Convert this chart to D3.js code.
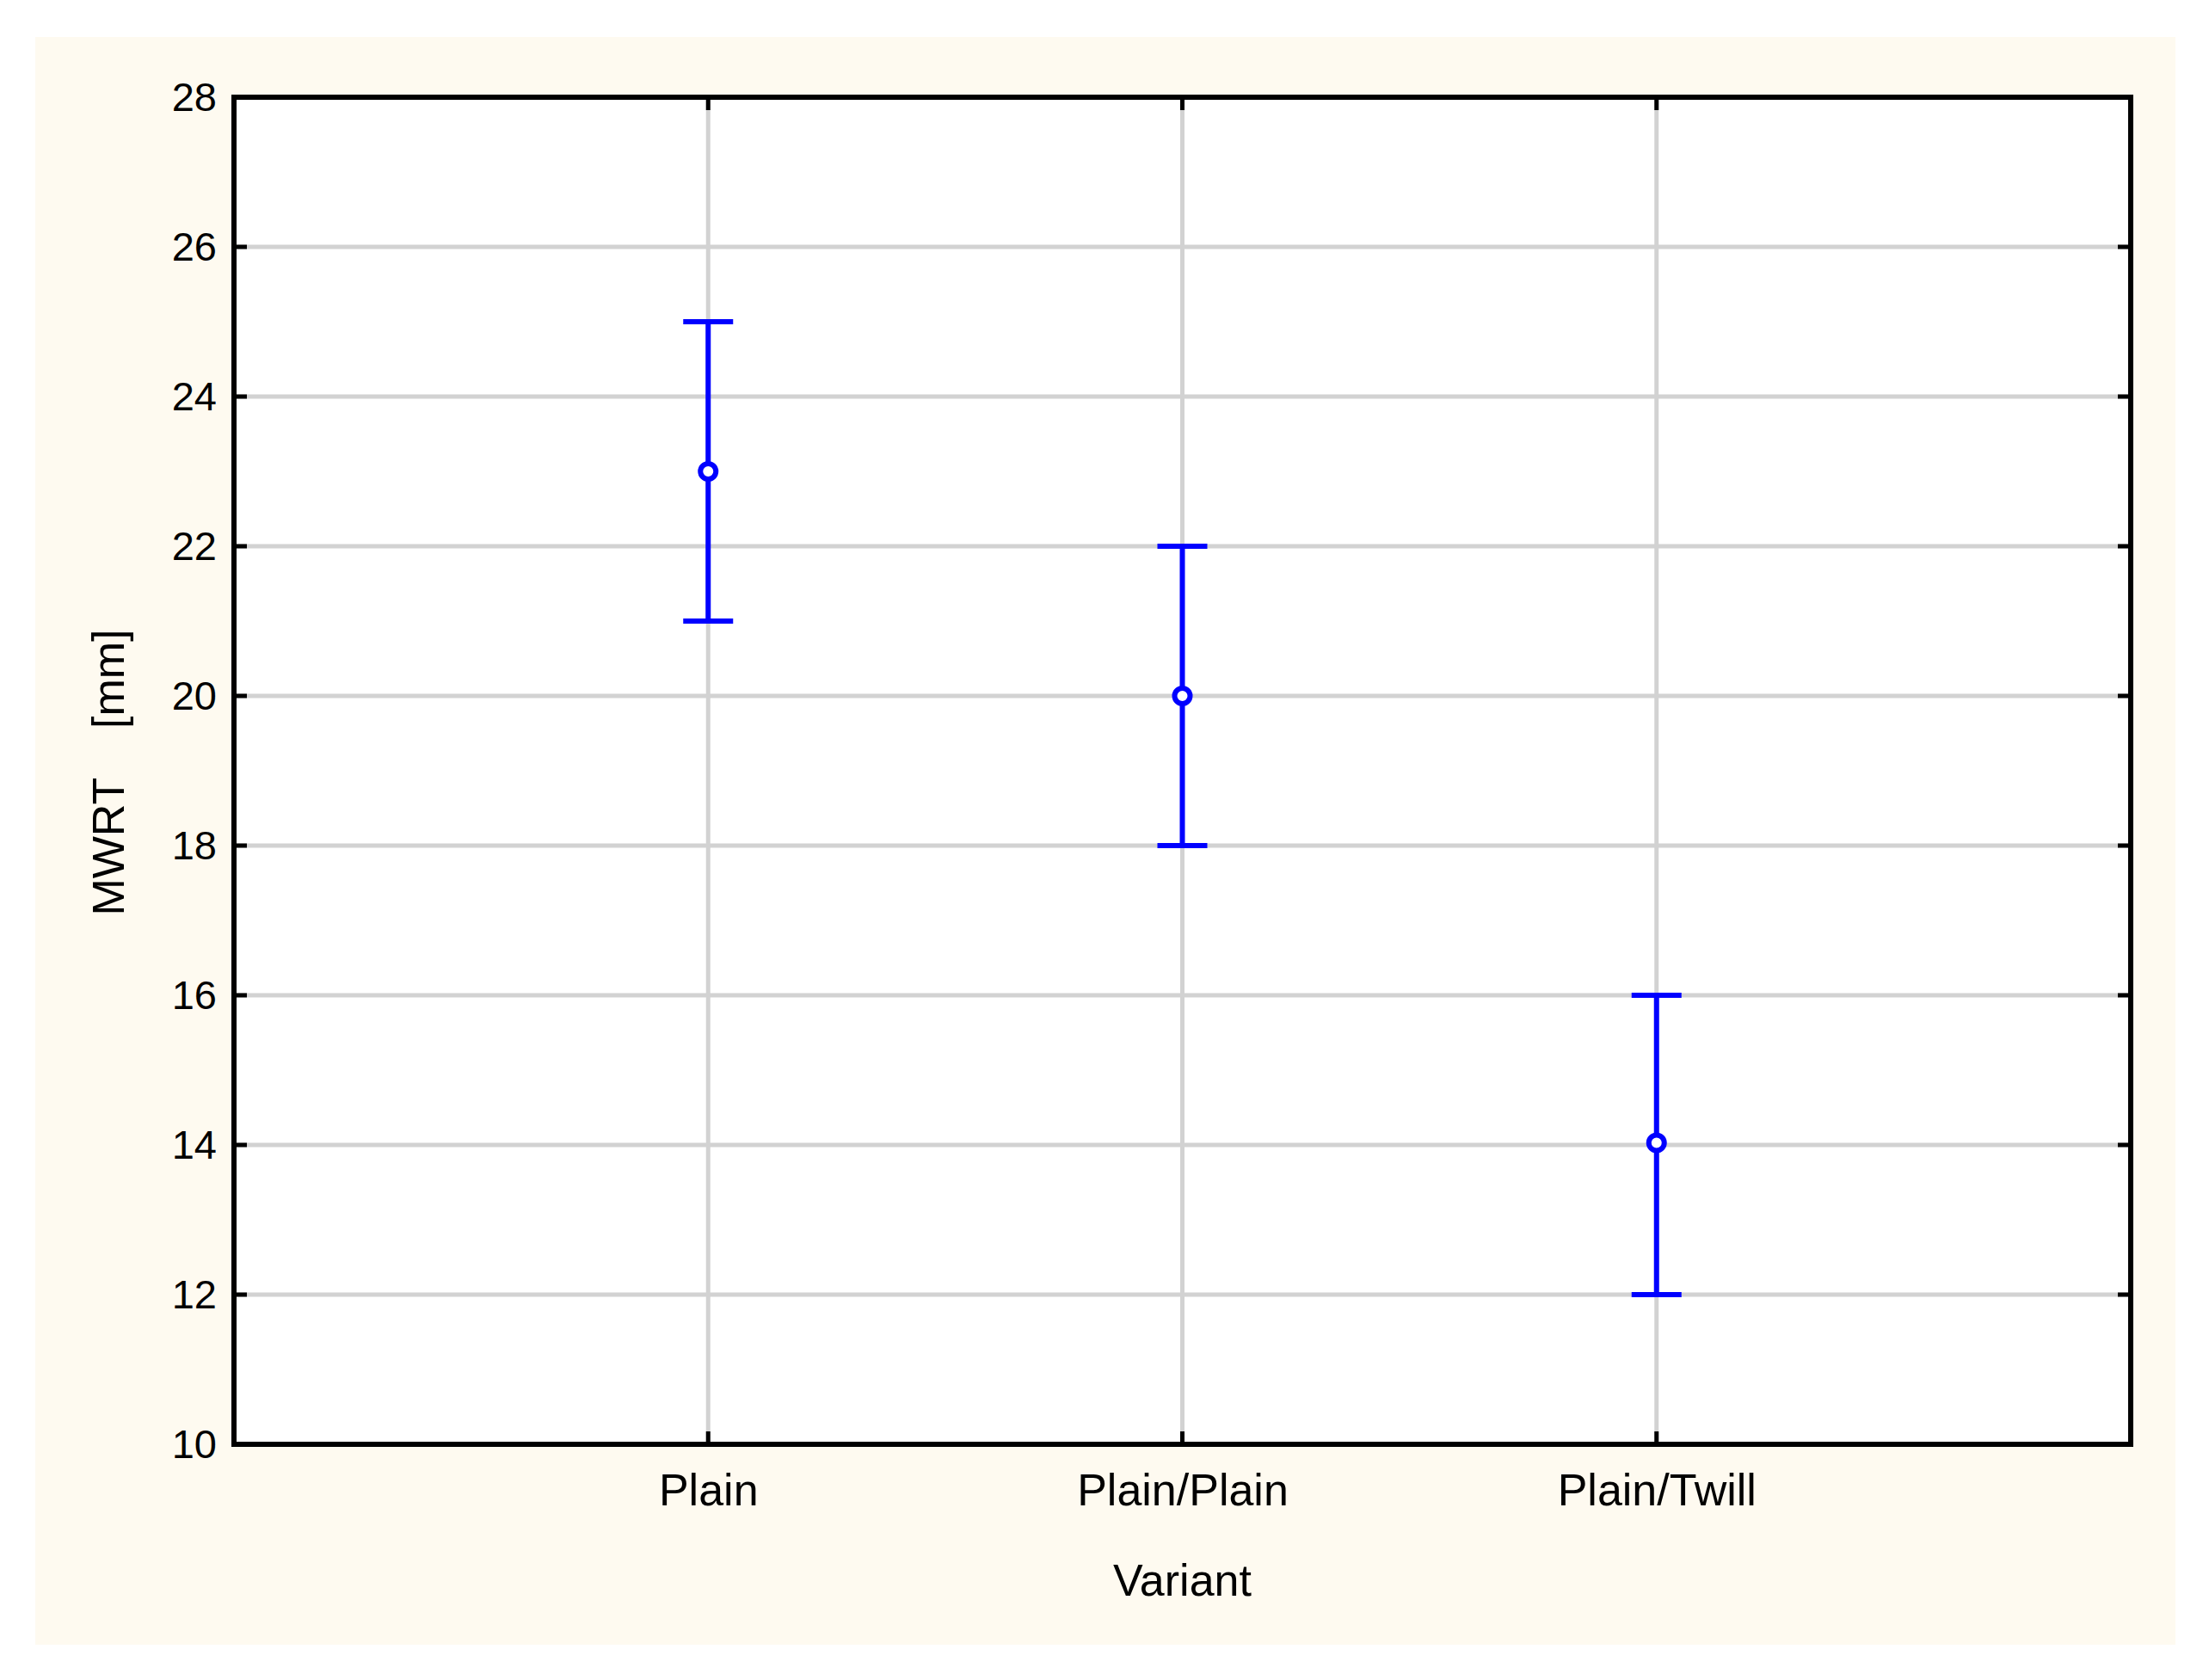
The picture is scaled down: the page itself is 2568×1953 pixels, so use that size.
<!DOCTYPE html><html><head><script src="https://cdn.jsdelivr.net/npm/d3@7"></script>
<style>body{margin:0;background:#fff}text{font-family:"Liberation Sans",Arial,sans-serif}</style></head><body>
<script>
const categories=["Plain","Plain/Plain","Plain/Twill"];
const means=[23,20,14.03];
const lower=[21,18,12];
const upper=[25,22,16];
const yTicks=[10,12,14,16,18,20,22,24,26,28];
const W=2568,H=1953,L=272,R=2477,T=113,B=1679;
const svg=d3.select("body").append("svg").attr("width",W).attr("height",H);
svg.append("rect").attr("x",41).attr("y",43).attr("width",2488).attr("height",1869).attr("fill","#fefaf0");
svg.append("rect").attr("x",L).attr("y",T).attr("width",R-L).attr("height",B-T).attr("fill","#fff");
const x=d3.scalePoint().domain(categories).range([L,R]).padding(1);
const y=d3.scaleLinear().domain([10,28]).range([B,T]);
const g=svg.append("g");
yTicks.forEach(t=>{g.append("line").attr("x1",L).attr("x2",R).attr("y1",y(t)).attr("y2",y(t)).attr("stroke","#d2d2d2").attr("stroke-width",5);});
categories.forEach(c=>{g.append("line").attr("x1",x(c)).attr("x2",x(c)).attr("y1",T).attr("y2",B).attr("stroke","#d2d2d2").attr("stroke-width",5);});
const ya=svg.append("g").attr("transform",`translate(${L},0)`).call(d3.axisLeft(y).tickValues(yTicks).tickSize(0).tickPadding(20));
ya.select(".domain").remove();
ya.selectAll("text").attr("font-size",47).attr("fill","#000");
const xa=svg.append("g").attr("transform",`translate(0,${B})`).call(d3.axisBottom(x).tickSize(0).tickPadding(34));
xa.select(".domain").remove();
xa.selectAll("text").attr("font-size",52).attr("fill","#000");
yTicks.forEach(t=>{svg.append("line").attr("x1",L).attr("x2",L+15).attr("y1",y(t)).attr("y2",y(t)).attr("stroke","#000").attr("stroke-width",5);svg.append("line").attr("x1",R-15).attr("x2",R).attr("y1",y(t)).attr("y2",y(t)).attr("stroke","#000").attr("stroke-width",5);});
categories.forEach(c=>{svg.append("line").attr("x1",x(c)).attr("x2",x(c)).attr("y1",B-15).attr("y2",B).attr("stroke","#000").attr("stroke-width",5);svg.append("line").attr("x1",x(c)).attr("x2",x(c)).attr("y1",T).attr("y2",T+15).attr("stroke","#000").attr("stroke-width",5);});
svg.append("rect").attr("x",L).attr("y",T).attr("width",R-L).attr("height",B-T).attr("fill","none").attr("stroke","#000").attr("stroke-width",6);
const col="#0000ff";
categories.forEach((c,i)=>{
 const cx=x(c);
 svg.append("line").attr("x1",cx).attr("x2",cx).attr("y1",y(upper[i])).attr("y2",y(lower[i])).attr("stroke",col).attr("stroke-width",6);
 [upper[i],lower[i]].forEach(v=>svg.append("line").attr("x1",cx-29).attr("x2",cx+29).attr("y1",y(v)).attr("y2",y(v)).attr("stroke",col).attr("stroke-width",6));
 svg.append("circle").attr("cx",cx).attr("cy",y(means[i])).attr("r",9).attr("fill","#fff").attr("stroke",col).attr("stroke-width",6);
});
svg.append("text").attr("x",(L+R)/2).attr("y",1855).attr("text-anchor","middle").attr("font-size",52).text("Variant");
svg.append("text").attr("transform","translate(144,898) rotate(-90)").attr("text-anchor","middle").attr("font-size",52).attr("xml:space","preserve").text("MWRT    [mm]");
</script></body></html>
